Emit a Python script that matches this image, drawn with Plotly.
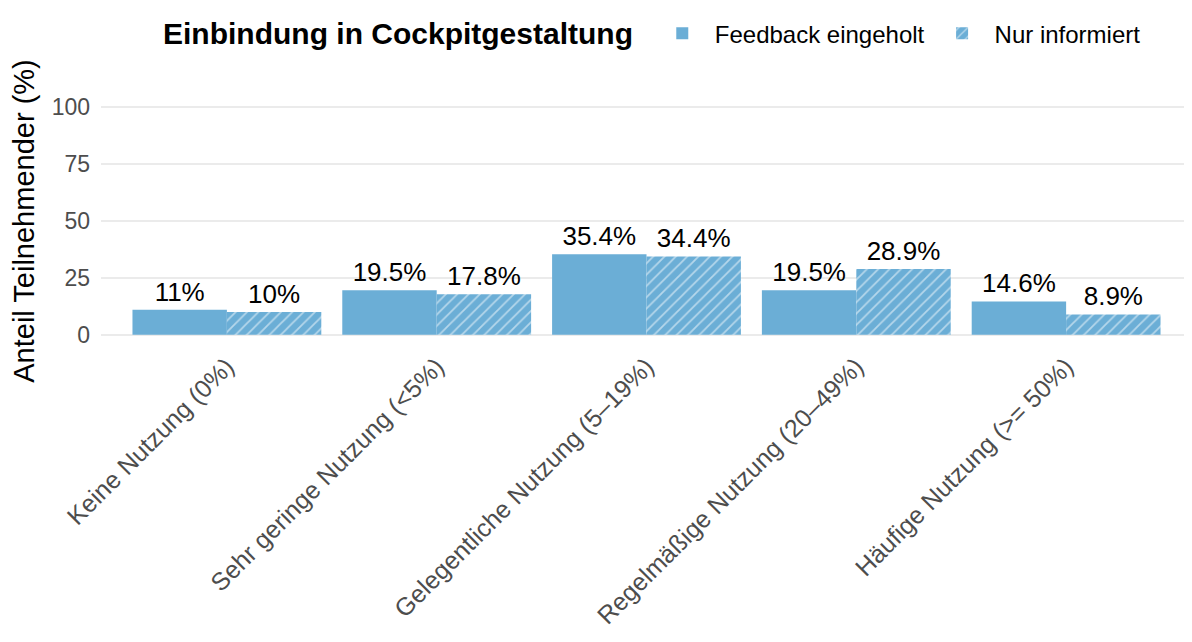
import plotly.graph_objects as go

categories = ["Keine Nutzung (0%)", "Sehr geringe Nutzung (<5%)", "Gelegentliche Nutzung (5–19%)",
              "Regelmäßige Nutzung (20–49%)", "Häufige Nutzung (>= 50%)"]
feedback = [11.0, 19.5, 35.4, 19.5, 14.6]
informiert = [10.0, 17.8, 34.4, 28.9, 8.9]
feedback_labels = ["11%", "19.5%", "35.4%", "19.5%", "14.6%"]
informiert_labels = ["10%", "17.8%", "34.4%", "28.9%", "8.9%"]
y_ticks = [0, 25, 50, 75, 100]
legend_title = "Einbindung in Cockpitgestaltung"

BLUE = "#6baed6"
FONT = "Liberation Sans, Arial, sans-serif"

fig = go.Figure()
fig.add_trace(go.Bar(
    x=categories, y=feedback, name="Feedback eingeholt",
    marker=dict(color=BLUE, line=dict(width=0)),
    text=feedback_labels, textposition="outside", cliponaxis=False,
    textfont=dict(size=26, color="black", family=FONT),
))
fig.add_trace(go.Bar(
    x=categories, y=informiert, name="Nur informiert",
    marker=dict(color=BLUE, line=dict(width=0),
                pattern=dict(shape="/", fgcolor="white", bgcolor=BLUE, size=8, solidity=0.22)),
    text=informiert_labels, textposition="outside", cliponaxis=False,
    textfont=dict(size=26, color="black", family=FONT),
))

fig.update_layout(
    width=1184, height=634,
    barmode="group", bargap=0.1, bargroupgap=0,
    plot_bgcolor="white", paper_bgcolor="white",
    font=dict(family=FONT, size=20, color="black"),
    margin=dict(l=93, r=0, t=88, b=296, autoexpand=False),
    showlegend=True,
    legend=dict(
        orientation="h", x=0.503, xanchor="left", y=0.995, yanchor="top",
        yref="container",
        font=dict(size=24, color="black", family=FONT),
        itemsizing="constant", itemwidth=55,
    ),
    annotations=[dict(
        text="<b>" + legend_title + "</b>", xref="paper", yref="paper",
        x=0.4895, y=1.252, xanchor="right", yanchor="middle", showarrow=False,
        font=dict(size=30, color="black", family=FONT),
    )],
)
fig.update_yaxes(
    range=[-5, 105], tickvals=y_ticks, showgrid=True, gridcolor="#ebebeb", gridwidth=2,
    zeroline=False, showline=False, ticks="", ticklen=0, automargin=False,
    ticklabelstandoff=10,
    tickfont=dict(size=23, color="#4d4d4d", family=FONT),
    title=dict(text="Anteil Teilnehmender (%)", standoff=60,
               font=dict(size=29, color="black", family=FONT)),
)
fig.update_xaxes(
    range=[-0.6, 4.6],
    showgrid=False, tickangle=-45, showline=False, ticks="", automargin=False,
    tickfont=dict(size=25, color="#4d4d4d", family=FONT),
)
fig.write_html("out.html")
